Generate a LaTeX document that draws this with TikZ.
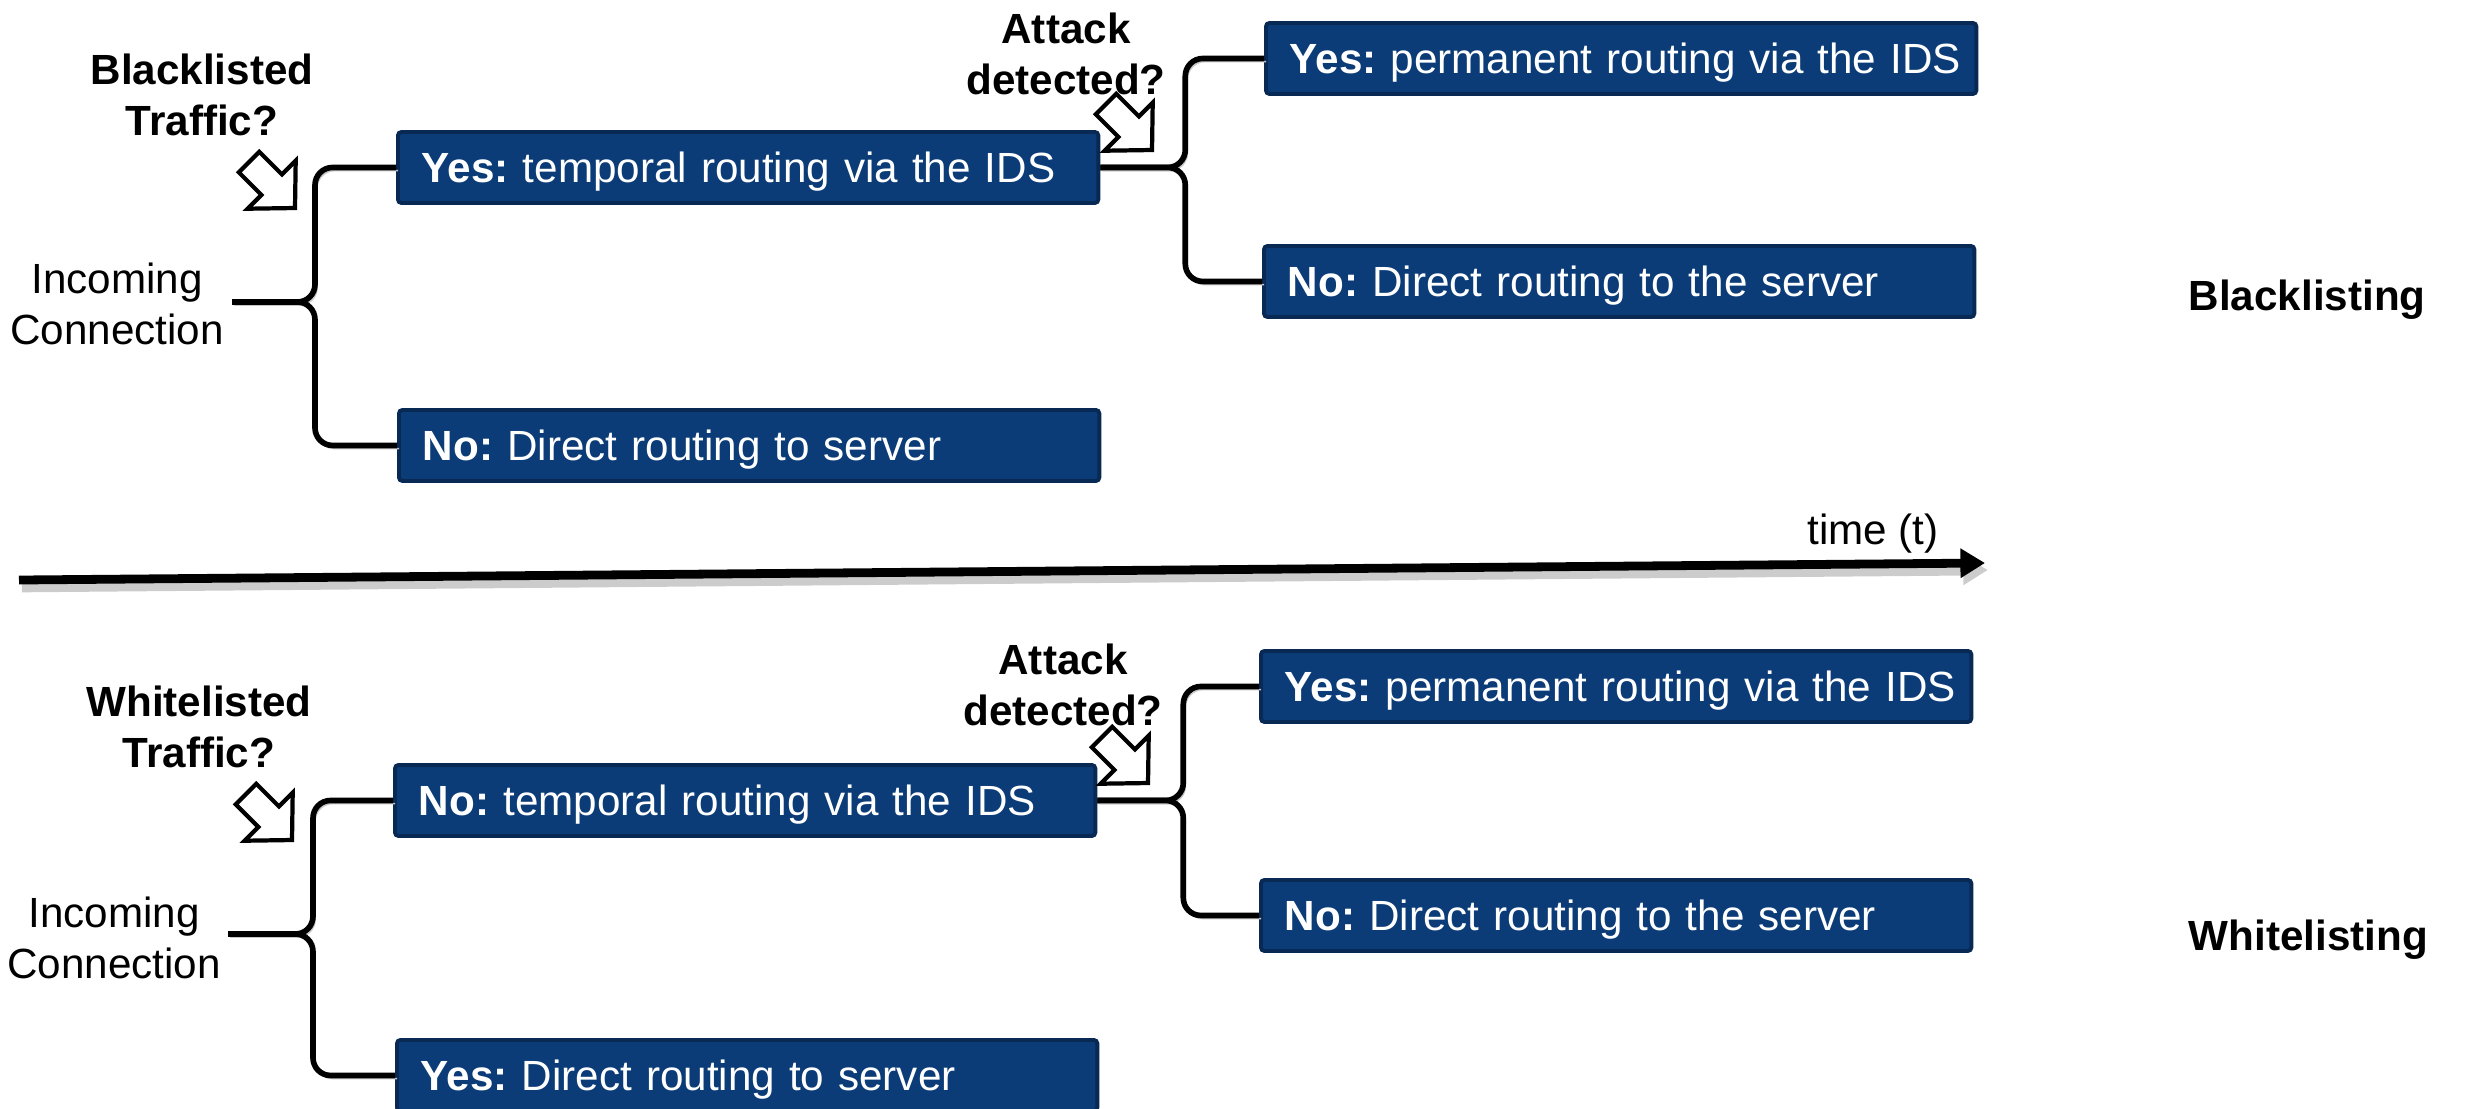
\documentclass[tikz,border=0pt]{standalone}
\usepackage{fontspec}
\setmainfont{Liberation Sans}
\usetikzlibrary{arrows.meta,calc}
\definecolor{boxfill}{RGB}{11,60,119}
\definecolor{boxedge}{RGB}{7,41,84}
% one line of box text: bold answer followed by the routing decision
\newcommand\routetext[2]{\mbox{\textbf{#1} #2}}
\tikzset{
  hollowarrow/.pic={
    \draw[draw=black, fill=white, line width=1.2pt, line join=miter]
      (0,0) -- (-33,34) -- (-33,14.5) -- (-65,14.5) -- (-65,-14.5)
      -- (-33,-14.5) -- (-33,-34) -- cycle;
  }
}
\begin{document}
\begin{tikzpicture}[x=0.01cm, y=-0.01cm,
  every node/.style={font=\fontsize{12pt}{14.6pt}\selectfont\frenchspacing},
  routebox/.style={draw=boxedge, fill=boxfill, line width=1.1pt,
    rounded corners=1pt, text=white, anchor=north west, align=left,
    inner xsep=0.24cm, inner ysep=0pt, minimum height=0.71cm,
    text height=8.6pt, text depth=0pt},
  leftbox/.style={routebox, text width=6.52cm},
  rightbox/.style={routebox, text width=6.62cm},
  question/.style={align=center, inner sep=0pt,
    font=\fontsize{12pt}{14.6pt}\selectfont\bfseries},
  plainlabel/.style={align=center, inner sep=0pt},
  fork/.style={draw=black, line width=1.6pt, rounded corners=5pt,
    preaction={draw=black!22, transform canvas={shift={(0.6pt,-0.9pt)}}}},
  timeline/.style={line width=2.5pt, -{Triangle[length=7pt,width=8pt]},
    preaction={draw=black!20, line width=3pt, transform canvas={shift={(0.8pt,-2pt)}}}}
]
\useasboundingbox (0,0) rectangle (2483,1108);

% ---------------- blacklisting ----------------
\node[question] (q1) at (202,95) {Blacklisted\\Traffic?};
\node[plainlabel] (in1) at (117,304) {Incoming\\Connection};
\coordinate (t1) at (232,302);
\coordinate (v1) at (315,302);

\node[leftbox] (b1) at (396,130) {\routetext{Yes:}{temporal routing via the IDS}};
\node[leftbox] (b2) at (397,408) {\routetext{No:}{Direct routing to server}};
\node[rightbox] (b3) at (1264,21) {\routetext{Yes:}{permanent routing via the IDS}};
\node[rightbox] (b4) at (1262,244) {\routetext{No:}{Direct routing to the server}};

\draw[fork] (t1) -- (v1) |- (b1.west);
\draw[fork] (t1) -- (v1) |- (b2.west);
\coordinate (v2) at ($(b1.east)+(85,0)$);
\draw[fork] (b1.east) -- (v2) |- (b3.west);
\draw[fork] (b1.east) -- (v2) |- (b4.west);

\node[question] (q2) at (1066,54) {Attack\\detected?};
\pic[rotate=-45] at (295,208) {hollowarrow};
\pic[rotate=-45] at (1152,150) {hollowarrow};

\node[question, anchor=west] (mode1) at (2188,300) {Blacklisting};

% ---------------- time axis ----------------
\coordinate (tl0) at (19,580);
\coordinate (tl1) at (1985,563);
\draw[timeline] (tl0) -- (tl1);
\node[plainlabel] (time) at (1873,534) {time (t)};

% ---------------- whitelisting ----------------
\node[question] (q3) at (199,727) {Whitelisted\\Traffic?};
\node[plainlabel] (in2) at (114,938) {Incoming\\Connection};
\coordinate (t3) at (228,934);
\coordinate (v3) at (313,934);

\node[leftbox] (b5) at (393,763) {\routetext{No:}{temporal routing via the IDS}};
\node[leftbox] (b6) at (395,1038) {\routetext{Yes:}{Direct routing to server}};
\node[rightbox] (b7) at (1259,649) {\routetext{Yes:}{permanent routing via the IDS}};
\node[rightbox] (b8) at (1259,878) {\routetext{No:}{Direct routing to the server}};

\draw[fork] (t3) -- (v3) |- (b5.west);
\draw[fork] (t3) -- (v3) |- (b6.west);
\coordinate (v4) at ($(b5.east)+(86,0)$);
\draw[fork] (b5.east) -- (v4) |- (b7.west);
\draw[fork] (b5.east) -- (v4) |- (b8.west);

\node[question] (q4) at (1063,685) {Attack\\detected?};
\pic[rotate=-45] at (292,840) {hollowarrow};
\pic[rotate=-45] at (1148,783) {hollowarrow};

\node[question, anchor=west] (mode2) at (2188,940) {Whitelisting};
\end{tikzpicture}
\end{document}
